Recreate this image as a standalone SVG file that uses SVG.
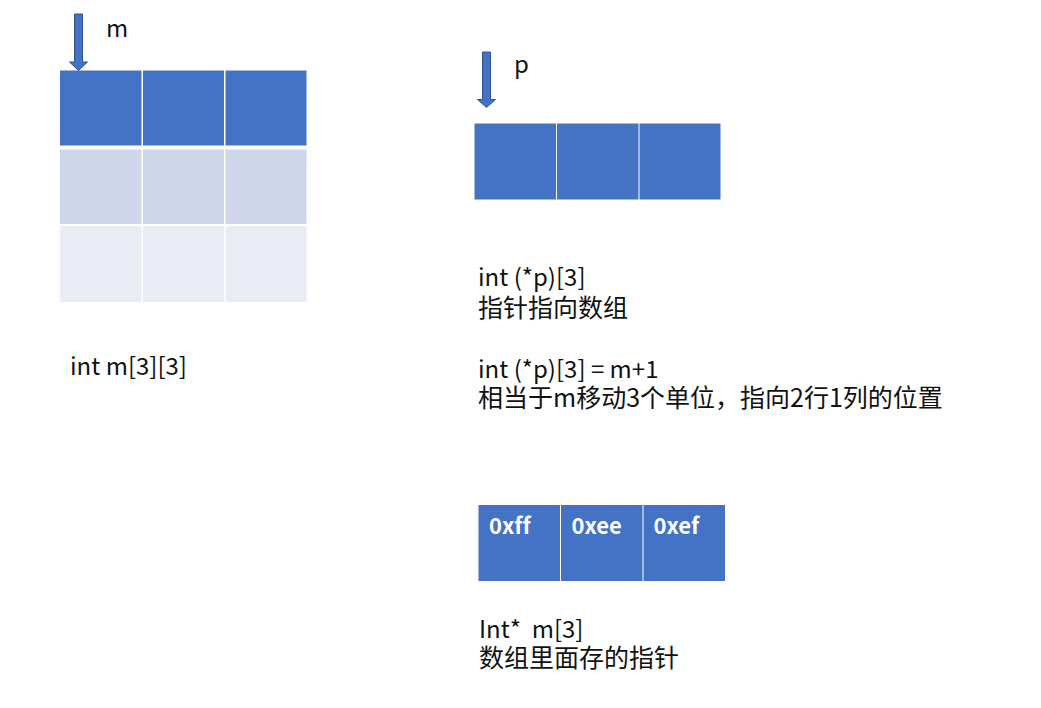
<svg xmlns="http://www.w3.org/2000/svg" width="1041" height="708" viewBox="0 0 1041 708">
<style>
.t{font-family:"Noto Sans CJK SC","Liberation Sans",sans-serif;font-size:24px;fill:#111;white-space:pre}
.c{font-size:25px}
.w{font-family:"Noto Sans CJK SC","Liberation Sans",sans-serif;font-size:22px;font-weight:bold;fill:#fff;font-variant-ligatures:none}
.d{fill:#4472C4}
.m{fill:#CFD5EA}
.l{fill:#E9EBF5}
.arr{fill:#4472C4;stroke:#2F528F;stroke-width:1}
</style>
<rect width="1041" height="708" fill="#fff"/>
<g id="matrix-m">
<rect class="d" x="60" y="70.5" width="81.5" height="75"/>
<rect class="d" x="143" y="70.5" width="81" height="75"/>
<rect class="d" x="225.5" y="70.5" width="81" height="75"/>
<rect class="m" x="60" y="149.5" width="81.5" height="74.5"/>
<rect class="m" x="143" y="149.5" width="81" height="74.5"/>
<rect class="m" x="225.5" y="149.5" width="81" height="74.5"/>
<rect class="l" x="60" y="226" width="81.5" height="76"/>
<rect class="l" x="143" y="226" width="81" height="76"/>
<rect class="l" x="225.5" y="226" width="81" height="76"/>
</g>
<g id="array-p">
<rect class="d" x="474.5" y="123.5" width="81.5" height="76"/>
<rect class="d" x="557" y="123.5" width="81.5" height="76"/>
<rect class="d" x="639.5" y="123.5" width="81" height="76"/>
</g>
<g id="array-ptr">
<rect class="d" x="478.5" y="505" width="81.5" height="76"/>
<rect class="d" x="561" y="505" width="81.5" height="76"/>
<rect class="d" x="643.5" y="505" width="81.5" height="76"/>
<text class="w" x="489" y="534">0xff</text>
<text class="w" x="571.5" y="534">0xee</text>
<text class="w" x="653.5" y="534">0xef</text>
</g>
<g id="connectors">
<path class="arr" d="M74.5,14 H82.5 V62 H87.5 L78.5,70.5 L69.5,62 H74.5 Z"/>
<path class="arr" d="M482.5,52 H490.5 V99.5 H495.5 L486.5,107.5 L477.5,99.5 H482.5 Z"/>
</g>
<g id="labels">
<text class="t" x="106" y="37">m</text>
<text class="t" x="514" y="73">p</text>
<text class="t" x="70" y="375">int m[3][3]</text>
<text class="t"><tspan x="478" y="286">int (*p)[3]</tspan><tspan class="c" x="478" y="317">指针指向数组</tspan></text>
<text class="t"><tspan x="478" y="378">int (*p)[3] = m+1</tspan><tspan class="c" x="478" y="407">相当于m移动3个单位，指向2行1列的位置</tspan></text>
<text class="t"><tspan x="479" y="638">Int*  m[3]</tspan><tspan class="c" x="479" y="667">数组里面存的指针</tspan></text>
</g>
</svg>
